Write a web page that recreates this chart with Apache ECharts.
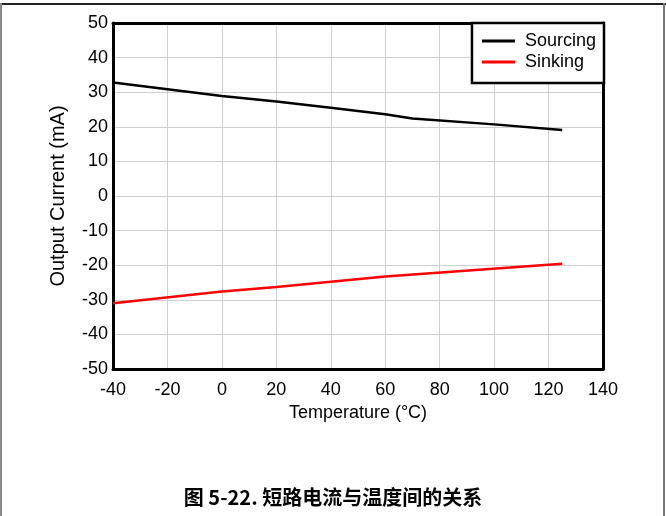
<!DOCTYPE html>
<html>
<head>
<meta charset="utf-8">
<script src="https://cdn.jsdelivr.net/npm/echarts@6/dist/echarts.min.js"></script>
<style>
html,body{margin:0;padding:0;background:#fff;}
#c{width:666px;height:516px;}
</style>
</head>
<body>
<div id="c"></div>
<script>
// Data
const temperature = [-40, 0, 20, 40, 60, 70, 100, 125];
const sourcing = [32.8, 28.9, 27.3, 25.5, 23.6, 22.4, 20.7, 19.1];
const sinkingTemp = [-40, 0, 20, 60, 125];
const sinking = [-31.0, -27.6, -26.3, -23.3, -19.6];
const seriesNames = ['Sourcing', 'Sinking'];
const xTitle = 'Temperature (°C)';
const yTitle = 'Output Current (mA)';
const caption = '图 5-22. 短路电流与温度间的关系';

const chart = echarts.init(document.getElementById('c'), null, {renderer: 'canvas'});
const font = '"Liberation Sans", Arial, sans-serif';
const frameAxis = {show: true, onZero: false, lineStyle: {color: '#000', width: 3}};
chart.setOption({
  animation: false,
  backgroundColor: '#fff',
  grid: {left: 113, right: 63, top: 23, bottom: 147, show: false},
  xAxis: [{
    type: 'value', min: -40, max: 140, interval: 20,
    name: xTitle, nameLocation: 'middle', nameGap: 26,
    nameTextStyle: {fontFamily: font, fontSize: 18, color: '#000'},
    axisLine: frameAxis, axisTick: {show: false},
    axisLabel: {fontFamily: font, fontSize: 18, color: '#000', margin: 12},
    splitLine: {show: true, lineStyle: {color: '#d0d0d0', width: 1}}
  }, {
    type: 'value', position: 'top', min: -40, max: 140, interval: 20,
    axisLine: frameAxis, axisTick: {show: false}, axisLabel: {show: false}, splitLine: {show: false}
  }],
  yAxis: [{
    type: 'value', min: -50, max: 50, interval: 10,
    name: yTitle, nameLocation: 'middle', nameGap: 45, nameRotate: 90,
    nameTextStyle: {fontFamily: font, fontSize: 20, color: '#000'},
    axisLine: frameAxis, axisTick: {show: false},
    axisLabel: {fontFamily: font, fontSize: 18, color: '#000', margin: 5},
    splitLine: {show: true, lineStyle: {color: '#d0d0d0', width: 1}}
  }, {
    type: 'value', position: 'right', min: -50, max: 50, interval: 10,
    axisLine: frameAxis, axisTick: {show: false}, axisLabel: {show: false}, splitLine: {show: false}
  }],
  legend: {
    orient: 'vertical', right: 62, top: 23,
    padding: [9, 8, 12, 10],
    itemWidth: 33, itemHeight: 3, itemGap: 3, icon: 'rect',
    backgroundColor: '#fff', borderColor: '#000', borderWidth: 2.5,
    textStyle: {fontFamily: font, fontSize: 18, color: '#000', padding: [0, 0, 0, 5]},
    data: seriesNames
  },
  series: [
    {name: seriesNames[0], type: 'line', symbol: 'none', showSymbol: false, z: 3,
     lineStyle: {color: '#000', width: 2.5}, itemStyle: {color: '#000'},
     data: temperature.map((t, i) => [t, sourcing[i]])},
    {name: seriesNames[1], type: 'line', symbol: 'none', showSymbol: false, z: 3,
     lineStyle: {color: '#ff0000', width: 2.5}, itemStyle: {color: '#ff0000'},
     data: sinkingTemp.map((t, i) => [t, sinking[i]])}
  ],
  graphic: [
    {type: 'rect', shape: {x: 0, y: 3, width: 666, height: 2}, style: {fill: '#222'}, silent: true},
    {type: 'rect', shape: {x: 0, y: 3, width: 2, height: 513}, style: {fill: '#888'}, silent: true},
    {type: 'rect', shape: {x: 663, y: 3, width: 2, height: 513}, style: {fill: '#777'}, silent: true},
    {type: 'text', left: 'center', top: 487,
     style: {text: caption, font: 'bold 20px "Noto Sans CJK SC", "Liberation Sans", sans-serif', fill: '#000'}}
  ]
});
</script>
</body>
</html>
